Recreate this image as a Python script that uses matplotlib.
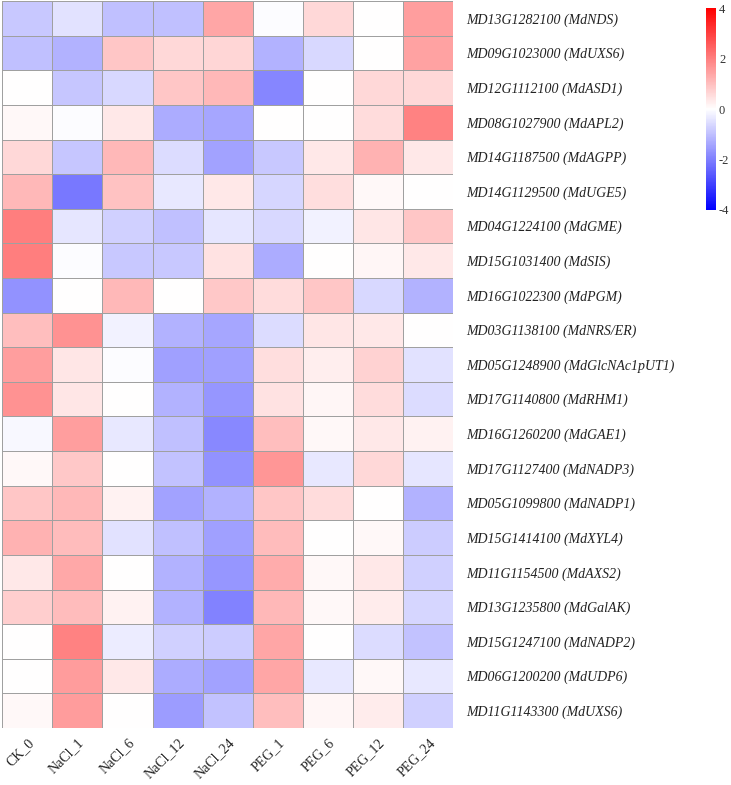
import numpy as np
import matplotlib
matplotlib.use("Agg")
import matplotlib.pyplot as plt
from matplotlib.ticker import FuncFormatter

genes = [
    "MD13G1282100 (MdNDS)", "MD09G1023000 (MdUXS6)", "MD12G1112100 (MdASD1)",
    "MD08G1027900 (MdAPL2)", "MD14G1187500 (MdAGPP)", "MD14G1129500 (MdUGE5)",
    "MD04G1224100 (MdGME)", "MD15G1031400 (MdSIS)", "MD16G1022300 (MdPGM)",
    "MD03G1138100 (MdNRS/ER)", "MD05G1248900 (MdGlcNAc1pUT1)", "MD17G1140800 (MdRHM1)",
    "MD16G1260200 (MdGAE1)", "MD17G1127400 (MdNADP3)", "MD05G1099800 (MdNADP1)",
    "MD15G1414100 (MdXYL4)", "MD11G1154500 (MdAXS2)", "MD13G1235800 (MdGalAK)",
    "MD15G1247100 (MdNADP2)", "MD06G1200200 (MdUDP6)", "MD11G1143300 (MdUXS6)",
]
samples = ["CK_0", "NaCl_1", "NaCl_6", "NaCl_12", "NaCl_24",
           "PEG_1", "PEG_6", "PEG_12", "PEG_24"]

values = np.array([
    [-0.85, -0.45, -1.0, -1.0, 1.4, -0.05, 0.6, 0.0, 1.5],
    [-1.0, -1.2, 0.9, 0.6, 0.65, -1.2, -0.6, 0.0, 1.45],
    [0.0, -0.9, -0.6, 0.9, 1.1, -1.9, 0.0, 0.6, 0.6],
    [0.1, -0.05, 0.35, -1.3, -1.4, 0.0, 0.0, 0.55, 1.95],
    [0.6, -0.9, 1.1, -0.55, -1.45, -0.85, 0.35, 1.2, 0.35],
    [1.1, -2.1, 0.95, -0.35, 0.35, -0.65, 0.5, 0.1, 0.0],
    [2.0, -0.4, -0.75, -1.0, -0.4, -0.6, -0.2, 0.4, 0.9],
    [2.0, -0.05, -0.85, -0.85, 0.45, -1.3, 0.0, 0.15, 0.35],
    [-1.7, 0.0, 1.1, 0.0, 0.85, 0.55, 0.9, -0.6, -1.2],
    [1.0, 1.7, -0.2, -1.2, -1.4, -0.55, 0.4, 0.35, 0.0],
    [1.5, 0.4, -0.05, -1.5, -1.5, 0.5, 0.25, 0.7, -0.45],
    [1.7, 0.4, 0.0, -1.2, -1.65, 0.45, 0.15, 0.55, -0.55],
    [-0.1, 1.5, -0.35, -1.0, -1.85, 1.0, 0.1, 0.35, 0.2],
    [0.1, 0.85, 0.0, -0.95, -1.7, 1.65, -0.35, 0.6, -0.4],
    [0.9, 1.1, 0.2, -1.45, -1.2, 0.9, 0.55, 0.0, -1.2],
    [1.2, 1.05, -0.45, -1.0, -1.5, 1.05, 0.0, 0.1, -0.8],
    [0.35, 1.35, 0.0, -1.2, -1.65, 1.3, 0.1, 0.35, -0.75],
    [0.75, 1.05, 0.2, -1.2, -1.95, 1.1, 0.1, 0.3, -0.65],
    [0.0, 1.95, -0.3, -0.75, -0.8, 1.4, 0.0, -0.55, -0.95],
    [0.0, 1.55, 0.35, -1.3, -1.45, 1.4, -0.35, 0.1, -0.35],
    [0.1, 1.55, 0.0, -1.55, -0.95, 1.0, 0.15, 0.3, -0.75],
])
cbar_ticks = [-4, -2, 0, 2, 4]

plt.rcParams["font.family"] = ["Liberation Serif", "DejaVu Serif"]

fig = plt.figure(figsize=(7.31, 7.85), dpi=100)
ax = fig.add_axes([0.003, 0.0726, 0.617, 0.926])
mesh = ax.pcolormesh(values, cmap="bwr", vmin=-4, vmax=4,
                     edgecolor="#a0a0a0", linewidth=0.5)
ax.set_xlim(0, len(samples))
ax.set_ylim(len(genes), 0)
for s in ax.spines.values():
    s.set_visible(False)

ax.yaxis.tick_right()
ax.set_yticks(np.arange(len(genes)) + 0.5)
ax.set_yticklabels(genes, fontstyle="italic", fontsize=10, color="#222222")
ax.set_xticks(np.arange(len(samples)) + 0.5)
ax.set_xticklabels(samples, rotation=45, ha="right", rotation_mode="anchor",
                   fontsize=10, color="#222222")
ax.tick_params(axis="y", length=0, pad=9)
ax.tick_params(axis="x", length=0, pad=6)

cax = fig.add_axes([0.966, 0.7325, 0.0137, 0.257])
cb = fig.colorbar(mesh, cax=cax, ticks=cbar_ticks,
                  format=FuncFormatter(lambda v, p: "%d" % v))
cb.outline.set_visible(False)
cb.ax.tick_params(length=0, labelsize=9, pad=2, colors="#333333")

fig.savefig("out.png", dpi=100)
